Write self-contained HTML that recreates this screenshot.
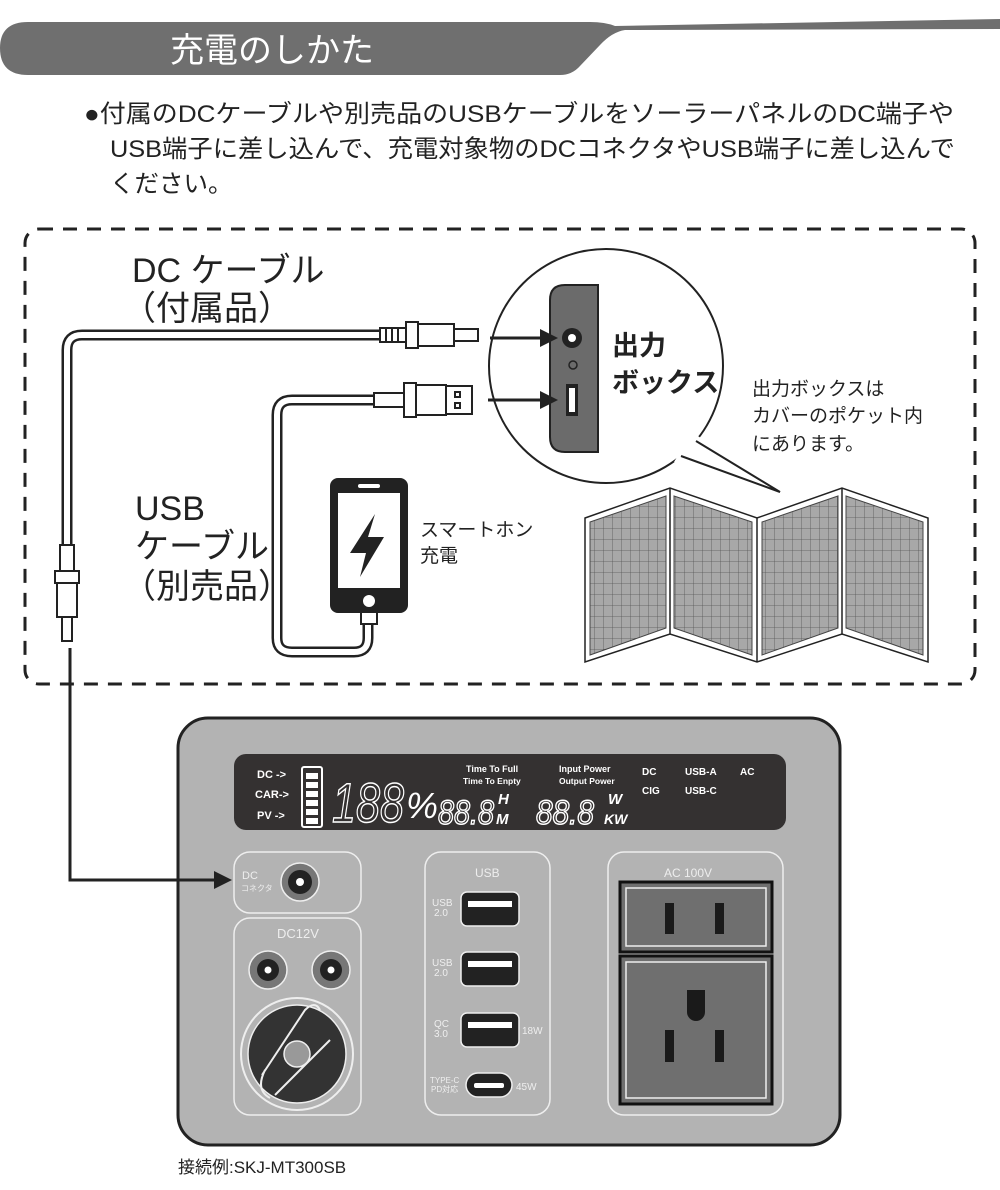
<!DOCTYPE html>
<html><head><meta charset="utf-8"><style>
html,body{margin:0;padding:0;background:#fff;}
svg{display:block;}
text{font-family:"Liberation Sans","Noto Sans CJK JP",sans-serif;}
</style></head><body>
<svg width="1000" height="1190" viewBox="0 0 1000 1190" xmlns="http://www.w3.org/2000/svg">
<!-- header -->
<path d="M28 22 H590 Q605 22 615 26 L1000 19 V29 L625 30 Q612 32 600 45 L580 66 Q572 75 560 75 H28 Q0 75 0 48 Q0 22 28 22Z" fill="#6f6f6f"/>
<text x="170" y="62" font-size="34" fill="#fff">充電のしかた</text>
<g font-size="24.5" fill="#222">
<text x="84" y="122" textLength="870" lengthAdjust="spacingAndGlyphs">●付属のDCケーブルや別売品のUSBケーブルをソーラーパネルのDC端子や</text>
<text x="110" y="157" textLength="845" lengthAdjust="spacingAndGlyphs">USB端子に差し込んで、充電対象物のDCコネクタやUSB端子に差し込んで</text>
<text x="110" y="192">ください。</text>
</g>
<!-- dashed box -->
<rect x="25" y="229" width="950" height="455" rx="14" fill="none" stroke="#222" stroke-width="3" stroke-dasharray="14 10"/>
<text x="132" y="282" font-size="34" fill="#222">DC ケーブル</text>
<text x="122" y="320" font-size="34" fill="#222">（付属品）</text>
<text x="135" y="520" font-size="34" fill="#222">USB</text>
<text x="135" y="558" font-size="34" fill="#222">ケーブル</text>
<text x="122" y="598" font-size="34" fill="#222">（別売品）</text>
<!-- DC cable -->
<path d="M382 335 H82 Q67 335 67 350 V548" fill="none" stroke="#222" stroke-width="11"/>
<path d="M382 335 H82 Q67 335 67 350 V548" fill="none" stroke="#fff" stroke-width="6"/>
<g stroke="#222" stroke-width="2" fill="#fff">
<rect x="380" y="328" width="26" height="14"/><rect x="406" y="322" width="12" height="26"/><rect x="418" y="324" width="36" height="22"/><rect x="454" y="329" width="24" height="12"/>
<line x1="386" y1="328" x2="386" y2="342"/><line x1="392" y1="328" x2="392" y2="342"/><line x1="398" y1="328" x2="398" y2="342"/>
<rect x="60" y="545" width="14" height="26"/><rect x="55" y="571" width="24" height="12"/><rect x="57" y="583" width="20" height="34"/><rect x="62" y="617" width="10" height="24"/>
</g>
<!-- USB cable -->
<path d="M382 400 H292 Q277 400 277 415 V638 Q277 652 292 652 H354 Q368 652 368 638 V622" fill="none" stroke="#222" stroke-width="11"/>
<path d="M382 400 H292 Q277 400 277 415 V638 Q277 652 292 652 H354 Q368 652 368 638 V622" fill="none" stroke="#fff" stroke-width="6"/>
<g stroke="#222" stroke-width="2" fill="#fff">
<rect x="374" y="393" width="30" height="14"/><rect x="404" y="383" width="12" height="34"/><rect x="416" y="385" width="30" height="30"/><rect x="446" y="386" width="26" height="28"/>
<rect x="455" y="392" width="5" height="5"/><rect x="455" y="403" width="5" height="5"/>
<rect x="361" y="606" width="16" height="18"/>
</g>
<!-- phone -->
<rect x="330" y="478" width="78" height="135" rx="8" fill="#222"/>
<rect x="338" y="493" width="62" height="95" fill="#fff"/>
<rect x="358" y="484" width="22" height="4" rx="2" fill="#fff"/>
<circle cx="369" cy="601" r="6" fill="#fff"/>
<path d="M375 514 L350 553 H366 L360 577 L384 537 H368Z" fill="#222"/>
<text x="420" y="536" font-size="19" fill="#222">スマートホン</text>
<text x="420" y="562" font-size="19" fill="#222">充電</text>
<!-- magnifier -->
<circle cx="606" cy="366" r="117" fill="#fff" stroke="#222" stroke-width="2"/>
<path d="M692 432 L674 462 L780 492Z" fill="#fff"/>
<path d="M696 441 L780 492 L681 456" fill="none" stroke="#222" stroke-width="2"/>
<path d="M598 285 H565 Q550 285 550 300 V437 Q550 452 565 452 H598Z" fill="#6b6b6b" stroke="#222" stroke-width="2"/>
<circle cx="572" cy="338" r="10" fill="#222"/><circle cx="572" cy="338" r="4" fill="#fff"/>
<circle cx="573" cy="365" r="4" fill="none" stroke="#222" stroke-width="1.5"/>
<rect x="566" y="384" width="12" height="32" fill="#222"/><rect x="569" y="388" width="6" height="24" fill="#fff"/>
<path d="M490 338 H548" stroke="#222" stroke-width="3"/><path d="M558 338 L540 329 L540 347Z" fill="#222"/>
<path d="M488 400 H548" stroke="#222" stroke-width="3"/><path d="M558 400 L540 391 L540 409Z" fill="#222"/>
<text x="612" y="355" font-size="27" font-weight="bold" fill="#222">出力</text>
<text x="612" y="392" font-size="27" font-weight="bold" fill="#222">ボックス</text>
<g font-size="19" fill="#222"><text x="752" y="395">出力ボックスは</text><text x="752" y="422">カバーのポケット内</text><text x="752" y="450">にあります。</text></g>
<!-- solar panels -->
<defs><pattern id="grid" width="9" height="11" patternUnits="userSpaceOnUse"><rect width="9" height="11" fill="#a8a8a8"/><path d="M0 0H9M0 0V11" stroke="#555" stroke-width="0.8"/></pattern></defs>
<path d="M585 518 L670 488 L757 518 L842 488 L928 518 V662 L842 634 L757 662 L670 634 L585 662Z" fill="#fff" stroke="#222" stroke-width="1.5"/>
<path d="M590 522 L666 496 V628 L590 655Z" fill="url(#grid)" stroke="#444"/>
<path d="M674 496 L752 522 V655 L674 628Z" fill="url(#grid)" stroke="#444"/>
<path d="M762 522 L838 496 V628 L762 655Z" fill="url(#grid)" stroke="#444"/>
<path d="M846 496 L923 522 V655 L846 628Z" fill="url(#grid)" stroke="#444"/>
<line x1="670" y1="488" x2="670" y2="634" stroke="#222" stroke-width="1.5"/><line x1="757" y1="518" x2="757" y2="662" stroke="#222" stroke-width="1.5"/><line x1="842" y1="488" x2="842" y2="634" stroke="#222" stroke-width="1.5"/>
<!-- power station -->
<rect x="178" y="718" width="662" height="427" rx="30" fill="#b3b3b3" stroke="#222" stroke-width="3"/>
<path d="M70 648 V880 H218" fill="none" stroke="#222" stroke-width="3"/>
<path d="M232 880 L214 871 L214 889Z" fill="#222"/>
<rect x="234" y="754" width="552" height="76" rx="12" fill="#343131"/>
<g fill="#fff" font-weight="bold">
<text x="257" y="778" font-size="11">DC -&gt;</text><text x="255" y="798" font-size="11">CAR-&gt;</text><text x="257" y="819" font-size="11">PV -&gt;</text>
<text x="466" y="772" font-size="9">Time To Full</text><text x="463" y="784" font-size="8.5">Time To Enpty</text>
<text x="559" y="772" font-size="9">Input Power</text><text x="559" y="784" font-size="8.5">Output Power</text>
<text x="642" y="775" font-size="10">DC</text><text x="642" y="794" font-size="10">CIG</text>
<text x="685" y="775" font-size="10">USB-A</text><text x="685" y="794" font-size="10">USB-C</text><text x="740" y="775" font-size="10">AC</text>
<text x="498" y="804" font-size="15" font-style="italic">H</text><text x="496" y="824" font-size="15" font-style="italic">M</text>
<text x="608" y="804" font-size="15" font-style="italic">W</text><text x="604" y="824" font-size="14" font-style="italic">KW</text>
</g>
<rect x="302" y="767" width="20" height="60" rx="2" fill="none" stroke="#fff" stroke-width="2"/>
<g fill="#fff"><rect x="306" y="773" width="12" height="6"/><rect x="306" y="782" width="12" height="6"/><rect x="306" y="791" width="12" height="6"/><rect x="306" y="800" width="12" height="6"/><rect x="306" y="809" width="12" height="6"/><rect x="306" y="818" width="12" height="6"/></g>
<g fill="none" stroke="#fff" stroke-width="1.5" font-style="italic">
<text x="332" y="822" font-size="56" textLength="72" lengthAdjust="spacingAndGlyphs">188</text>
<text x="438" y="824" font-size="34" textLength="56" lengthAdjust="spacingAndGlyphs">88.8</text><text x="536" y="824" font-size="34" textLength="58" lengthAdjust="spacingAndGlyphs">88.8</text>
</g>
<text x="406" y="818" font-size="36" fill="#fff" font-style="italic">%</text>
<!-- panels -->
<g fill="none" stroke="#eee" stroke-width="1.5">
<rect x="234" y="852" width="127" height="61" rx="16"/>
<rect x="234" y="918" width="127" height="197" rx="16"/>
<rect x="425" y="852" width="125" height="263" rx="16"/>
<rect x="608" y="852" width="175" height="263" rx="16"/>
</g>
<text x="242" y="879" font-size="11" fill="#eee">DC</text><text x="241" y="891" font-size="8" fill="#eee">コネクタ</text>
<circle cx="300" cy="882" r="19" fill="#777" stroke="#eee" stroke-width="1.5"/><circle cx="300" cy="882" r="12" fill="#222"/><circle cx="300" cy="882" r="4" fill="#fff"/>
<text x="277" y="938" font-size="13" fill="#eee">DC12V</text>
<circle cx="268" cy="970" r="19" fill="#777" stroke="#eee" stroke-width="1.5"/><circle cx="268" cy="970" r="11" fill="#222"/><circle cx="268" cy="970" r="3.5" fill="#fff"/>
<circle cx="331" cy="970" r="19" fill="#777" stroke="#eee" stroke-width="1.5"/><circle cx="331" cy="970" r="11" fill="#222"/><circle cx="331" cy="970" r="3.5" fill="#fff"/>
<circle cx="297" cy="1054" r="56" fill="#b3b3b3" stroke="#eee" stroke-width="2"/>
<circle cx="297" cy="1054" r="49" fill="#333" stroke="#eee" stroke-width="1.5"/>
<path d="M262 1075 L305 1010 Q315 1000 320 1010 M275 1095 L330 1040 M265 1070 Q255 1090 270 1098" fill="none" stroke="#eee" stroke-width="2"/>
<circle cx="297" cy="1054" r="13" fill="#999" stroke="#eee" stroke-width="1.5"/>
<text x="475" y="877" font-size="12" fill="#eee">USB</text>
<g font-size="10" fill="#eee"><text x="432" y="906">USB</text><text x="434" y="916">2.0</text><text x="432" y="966">USB</text><text x="434" y="976">2.0</text><text x="434" y="1027">QC</text><text x="434" y="1037">3.0</text><text x="522" y="1034">18W</text><text x="430" y="1083" font-size="8">TYPE-C</text><text x="431" y="1092" font-size="8">PD対応</text><text x="516" y="1090">45W</text></g>
<g fill="#222" stroke="#eee" stroke-width="1.5"><rect x="461" y="892" width="58" height="34" rx="6"/><rect x="461" y="952" width="58" height="34" rx="6"/><rect x="461" y="1013" width="58" height="34" rx="6"/><rect x="466" y="1073" width="46" height="24" rx="12"/></g>
<g fill="#fff"><rect x="468" y="901" width="44" height="6"/><rect x="468" y="961" width="44" height="6"/><rect x="468" y="1022" width="44" height="6"/><rect x="474" y="1083" width="30" height="5" rx="2"/></g>
<text x="664" y="877" font-size="12" fill="#eee">AC 100V</text>
<rect x="620" y="882" width="152" height="70" fill="#6f6f6f" stroke="#111" stroke-width="3"/>
<rect x="626" y="888" width="140" height="58" fill="none" stroke="#eee" stroke-width="1.5"/>
<rect x="620" y="956" width="152" height="148" fill="#6f6f6f" stroke="#111" stroke-width="3"/>
<rect x="626" y="962" width="140" height="136" fill="none" stroke="#eee" stroke-width="1.5"/>
<g fill="#1a1a1a"><rect x="665" y="903" width="9" height="31"/><rect x="715" y="903" width="9" height="31"/><path d="M687 990 H705 V1012 A9 9 0 0 1 687 1012Z"/><rect x="665" y="1030" width="9" height="32"/><rect x="715" y="1030" width="9" height="32"/></g>
<text x="178" y="1173" font-size="17" fill="#222">接続例:SKJ-MT300SB</text>
</svg>
</body></html>
